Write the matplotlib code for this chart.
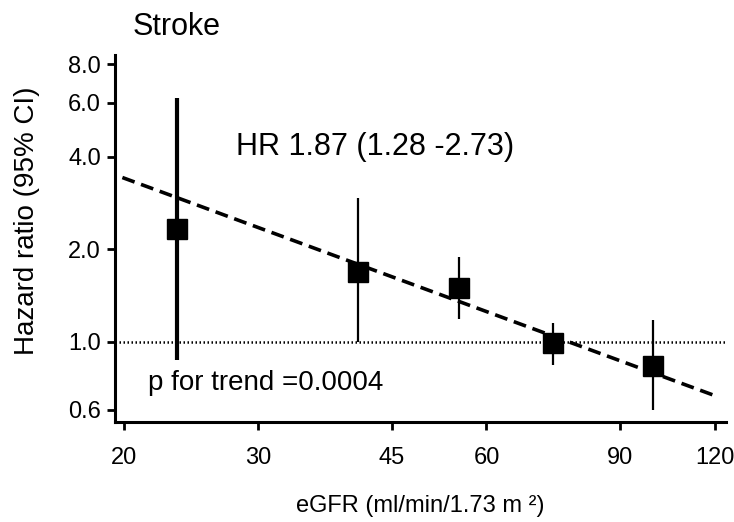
import matplotlib
matplotlib.use("Agg")
from matplotlib import pyplot as plt
from matplotlib.ticker import FixedLocator, FixedFormatter, NullLocator

plt.rcParams["font.family"] = ["Liberation Sans", "DejaVu Sans"]

# eGFR category midpoints and hazard ratios
egfr = [23.5, 40.7, 55.2, 73.4, 99.3]
hr = [2.33, 1.69, 1.49, 0.99, 0.83]
ci_low = [0.87, 1.00, 1.18, 0.84, 0.60]
ci_high = [6.19, 2.94, 1.89, 1.15, 1.175]

# fitted trend line end points
trend_x = [19.9, 119.2]
trend_y = [3.42, 0.67]

x_ticks = [20, 30, 45, 60, 90, 120]
x_labels = ["20", "30", "45", "60", "90", "120"]
y_ticks = [0.6, 1.0, 2.0, 4.0, 6.0, 8.0]
y_labels = ["0.6", "1.0", "2.0", "4.0", "6.0", "8.0"]

fig = plt.figure(figsize=(7.34, 5.22), dpi=100)
ax = fig.add_axes([115 / 734, 100 / 522, 611 / 734, 367 / 522])
ax.set_xscale("log")
ax.set_yscale("log")
ax.set_xlim(19.46, 124)
ax.set_ylim(0.547, 8.57)

ax.axhline(1.0, color="black", lw=1.8, ls=(0, (0.6, 1.0)))
ax.plot(trend_x, trend_y, color="black", lw=2.6, ls=(0, (3.6, 1.9)))
ax.vlines(egfr, ci_low, ci_high, colors="black", linewidths=[3.0, 1.6, 1.6, 1.6, 1.6])
ax.plot(egfr, hr, "s", color="black", markersize=14, zorder=5)

ax.xaxis.set_major_locator(FixedLocator(x_ticks))
ax.xaxis.set_major_formatter(FixedFormatter(x_labels))
ax.xaxis.set_minor_locator(NullLocator())
ax.yaxis.set_major_locator(FixedLocator(y_ticks))
ax.yaxis.set_major_formatter(FixedFormatter(y_labels))
ax.yaxis.set_minor_locator(NullLocator())

for side in ("top", "right"):
    ax.spines[side].set_visible(False)
for side in ("left", "bottom"):
    ax.spines[side].set_linewidth(2.2)
ax.tick_params(axis="both", direction="out", length=6, width=2, labelsize=17, pad=4)
ax.tick_params(axis="x", pad=12)

ax.set_xlabel("eGFR (ml/min/1.73 m ²)", fontsize=17)
ax.xaxis.set_label_coords(0.5, -0.2)
ax.set_ylabel("Hazard ratio (95% CI)", fontsize=20)
ax.yaxis.set_label_coords(-0.123, 0.548)

ax.text(28.1, 4.30, "HR 1.87 (1.28 -2.73)", fontsize=22, va="center", ha="left")
ax.text(21.5, 0.734, "p for trend =0.0004", fontsize=20, va="center", ha="left")
fig.text(133 / 734, 1 - 27 / 522, "Stroke", fontsize=22, va="center", ha="left")

plt.savefig("out.png", dpi=100)
